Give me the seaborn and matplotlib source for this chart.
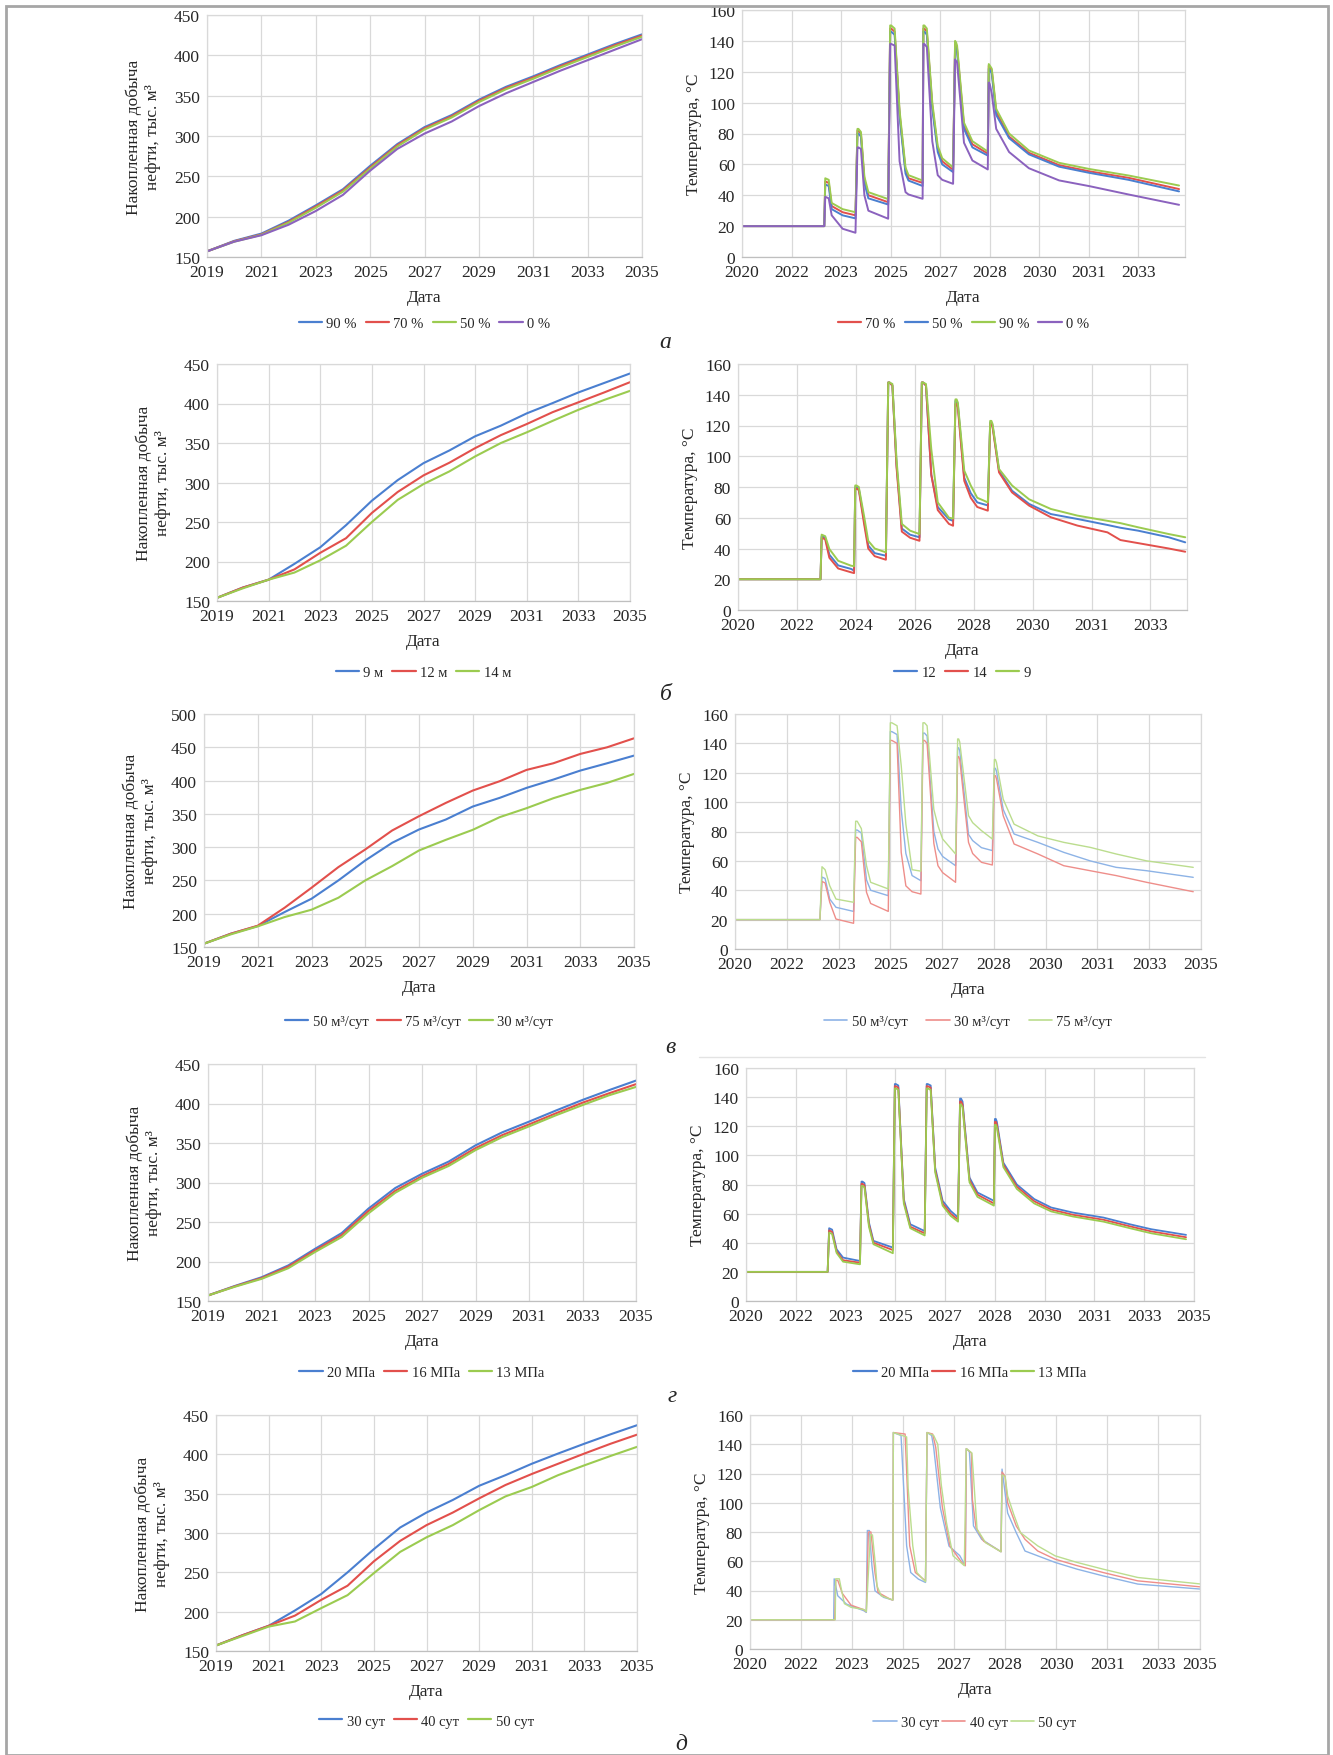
import numpy as np
import pandas as pd
import matplotlib.pyplot as plt
import seaborn as sns
from matplotlib.lines import Line2D
from matplotlib.patches import Rectangle

sns.set_theme(style="whitegrid")
plt.rcParams['font.family'] = ['Liberation Serif', 'DejaVu Serif']

# ---------------- data: cumulative oil production (left column) ----------------
years = list(range(2019, 2036))

prod_a = {
    "90 %": [157, 170, 179, 195, 214, 234, 263, 290, 311, 326, 345, 361, 374, 388, 401, 414, 426],
    "70 %": [157, 169.5, 178, 193.5, 212.5, 232.5, 261, 288.5, 309.5, 324.5, 343.5, 359.5, 372.5, 386.5, 399.5, 412.5, 424.5],
    "50 %": [157, 169, 177.5, 192.5, 211, 231, 259.5, 287, 308, 323, 342, 358, 371, 385, 398, 411, 423],
    "0 %": [157, 169, 177, 190, 207, 227, 257, 284, 303, 318, 337, 353, 367, 381, 394, 407, 420],
}
prod_b = {
    "9 м": [154, 167, 177, 197, 218, 246, 277, 303, 324.5, 340.5, 358.5, 372, 387.5, 400.5, 414, 426, 438],
    "12 м": [154, 167, 177, 190, 211, 229.5, 261.5, 288, 309, 325, 343.5, 360, 374, 389, 401.5, 414, 427],
    "14 м": [154, 166, 177, 186, 201.5, 220, 250, 278, 298, 314, 333, 350, 363.5, 378, 392, 404.5, 416],
}
prod_c = {
    "50 м³/сут": [155, 170, 181.5, 202.5, 222.5, 250, 280, 306.5, 326.5, 341.5, 361, 374, 389, 401.5, 415, 426, 437.5],
    "75 м³/сут": [155, 170, 182, 209, 239, 270, 296.5, 325, 346.5, 366.5, 385, 399, 416, 426, 440, 450, 463.5],
    "30 м³/сут": [155, 169, 181, 195, 206, 224, 250, 271.5, 295, 311, 326, 345, 358.5, 373.5, 386, 396.5, 410],
}
prod_d = {
    "20 МПа": [157, 169, 180, 195, 216, 236, 267, 293, 311, 326.5, 347, 363.5, 377, 391, 404.5, 417, 429],
    "16 МПа": [157, 168.5, 179, 193.5, 214, 233.5, 264, 289.5, 308, 323.5, 343.5, 360, 373.5, 387.5, 401, 413, 424.5],
    "13 МПа": [157, 168, 178, 191.5, 212, 231, 261, 287, 306, 321, 341, 357.5, 371, 385, 398, 410.5, 421],
}
prod_e = {
    "30 сут": [157, 170, 182, 201.5, 222.5, 250, 279.5, 307, 326, 342, 360, 373.5, 388, 401, 413.5, 425.5, 437],
    "40 сут": [157, 170, 182, 195, 215, 233, 264, 290, 310, 326, 344, 361, 375, 388, 401, 413.5, 425],
    "50 сут": [157, 169, 181, 187.5, 204.5, 221, 249, 276, 294.5, 310, 329, 346.5, 358.5, 373.5, 386, 398, 409.5],
}

# ---------------- data: temperature (right column) ----------------
# time is given in units of the date-axis label interval (Excel category axis)
t_a = [0, 1.66, 1.68, 1.75, 1.81, 2.03, 2.29,
       2.33, 2.35, 2.40, 2.47, 2.55, 2.95,
       2.99, 3.01, 3.08, 3.18, 3.30, 3.36, 3.645,
       3.66, 3.68, 3.73, 3.84, 3.95, 4.04, 4.26,
       4.30, 4.32, 4.34, 4.48, 4.65, 4.96,
       4.98, 5.00, 5.04, 5.13, 5.39, 5.79, 6.40, 7.01, 7.80, 8.82]
temp_a = {
    "70 %": [20, 20, 49, 48, 33, 29, 27,
             82, 82, 80, 50, 40, 35.5,
             148, 148, 146, 93, 56, 51, 48,
             148, 148, 146, 98, 70, 62, 56.5,
             138, 137, 135, 85, 73, 67,
             124, 123, 121, 94, 78, 67.5, 59.5, 55.5, 51.3, 44],
    "50 %": [20, 20, 47, 46, 31, 27, 25,
             80, 80, 78, 48, 38, 34,
             146, 146, 144, 91, 54, 49.5, 46,
             146, 146, 144, 96, 68, 60, 55,
             136, 135, 133, 83, 71, 65.7,
             122, 121, 119, 92, 77, 66.5, 58.5, 54.5, 50, 42.5],
    "90 %": [20, 20, 51, 50, 35, 31, 29,
             83, 83, 81, 52, 42, 37.5,
             150, 150, 148, 95, 58, 53, 49.5,
             150, 150, 148, 100, 72, 64, 58,
             140, 139, 137, 87, 75, 68.3,
             125, 124, 122, 96, 80, 69, 61, 57, 52.8, 46.3],
    "0 %": [20, 20, 39, 38, 27, 18.3, 15.7,
            71, 71, 70, 40, 30, 24.8,
            138, 138, 137, 62, 42, 40.5, 37.7,
            138, 138, 136, 75, 53, 50, 47.4,
            128, 127, 126, 74, 62.5, 56.7,
            113, 112, 106, 83, 68, 57.5, 49.6, 45.9, 40.5, 33.8],
}

t_b = [0, 1.40, 1.42, 1.48, 1.55, 1.70, 1.92, 1.97,
       1.99, 2.01, 2.05, 2.14, 2.21, 2.32, 2.51,
       2.55, 2.57, 2.62, 2.69, 2.78, 2.92, 3.08,
       3.12, 3.14, 3.19, 3.28, 3.39, 3.58, 3.65,
       3.69, 3.71, 3.73, 3.84, 3.95, 4.06, 4.24,
       4.28, 4.30, 4.32, 4.43, 4.65, 4.94, 5.31, 5.76, 6.27, 6.49, 6.79, 7.31, 7.59]
temp_b = {
    "12": [20, 20, 48, 47, 36, 29, 26.7, 25.6,
           80, 80, 79, 58, 42, 37, 35.3,
           148, 148, 146, 95, 53, 49, 47.3,
           148, 148, 146, 88, 67, 59, 58,
           136, 136, 134, 86, 76, 70, 68,
           122, 122, 120, 90.6, 77.6, 69, 62.4, 59.2, 55.3, 53.5, 51.6, 47.3, 44],
    "14": [20, 20, 47, 46, 34, 27, 24.5, 24,
           79, 79, 78, 56, 40, 35, 32.7,
           148, 148, 146, 93, 51, 47, 45,
           148, 148, 146, 88, 65, 56, 54.8,
           134, 134, 132, 84, 73, 67, 64.6,
           121, 121, 119, 89.5, 76.5, 67.9, 60.3, 54.9, 50.5, 45.5, 43.5, 40, 37.9],
    "9": [20, 20, 49, 48, 39.7, 32, 28.8, 28.5,
          81, 81, 80, 61, 45, 40, 37.5,
          148, 148, 147, 98, 56, 51.6, 49.4,
          148, 148, 147, 104.7, 70, 60, 59.5,
          137, 137, 135, 90.6, 81, 73, 70,
          123, 123, 121, 91.7, 81, 72, 65.7, 61.4, 58, 56.5, 53.8, 49.4, 47.3],
}

t_c = [0, 1.64, 1.68, 1.74, 1.83, 1.95, 2.29,
       2.33, 2.36, 2.44, 2.54, 2.62, 2.96,
       3.00, 3.03, 3.13, 3.21, 3.30, 3.42, 3.59,
       3.63, 3.66, 3.71, 3.84, 3.92, 4.01, 4.26,
       4.30, 4.32, 4.34, 4.51, 4.59, 4.76, 4.97,
       5.01, 5.03, 5.05, 5.18, 5.39, 5.85, 6.35, 6.86, 7.36, 7.95, 8.85]
temp_c = {
    "50 м³/сут": [20, 20, 49, 48, 34, 28.4, 25.6,
                  81, 81, 79, 47, 40, 36.3,
                  148, 148, 146, 95, 65, 50, 46.5,
                  147, 147, 145, 80, 68, 63, 56.7,
                  137, 137, 135, 78, 73.8, 69, 67,
                  123, 123, 121, 95, 78.3, 72.6, 65.8, 60, 55.6, 53.3, 48.8],
    "30 м³/сут": [20, 20, 46, 45, 31.8, 20.4, 17.5,
                  76, 76, 73, 38.6, 31, 25.6,
                  142, 142, 140, 65.8, 43, 39, 37.4,
                  142, 142, 140, 72, 56.7, 52, 45.4,
                  131, 131, 129, 72.6, 65, 59, 57.2,
                  118, 118, 116, 90.8, 71.5, 64.7, 56.7, 53.3, 50, 45.4, 39],
    "75 м³/сут": [20, 20, 56, 54, 43, 34, 31.8,
                  87, 87, 82, 56.7, 45.4, 40.9,
                  154, 154, 152, 125, 85, 54, 53,
                  154, 154, 152, 95, 84, 74.9, 64.7,
                  143, 143, 141, 90.8, 86, 80.6, 74.9,
                  129, 129, 127, 102, 85, 77, 72.6, 69.2, 64.7, 60, 55.6],
}

t_d = [0, 1.64, 1.67, 1.73, 1.82, 1.95, 2.29,
       2.32, 2.34, 2.38, 2.47, 2.56, 2.95,
       2.99, 3.01, 3.06, 3.17, 3.30, 3.59,
       3.63, 3.65, 3.71, 3.80, 3.95, 4.11, 4.26,
       4.30, 4.32, 4.35, 4.49, 4.65, 4.98,
       5.00, 5.02, 5.04, 5.17, 5.44, 5.79, 6.13, 6.57, 7.18, 7.71, 8.14, 8.84]
temp_d = {
    "20 МПа": [20, 20, 50, 49, 35.5, 29.8, 27.5,
               82, 82, 81, 53.9, 41.3, 36.7,
               149, 149, 148, 70, 52.7, 48,
               149, 149, 148, 91.7, 68.8, 61.9, 57.3,
               139, 139, 137, 84.8, 74.5, 68.8,
               125, 125, 123, 95, 80, 70, 64.2, 60.7, 57.3, 52.7, 49.3, 45.4],
    "16 МПа": [20, 20, 48.5, 47.5, 34, 28, 26.3,
               80.5, 80.5, 79.5, 52.5, 40, 35,
               147.5, 147.5, 146.5, 68.5, 51, 46.5,
               147.5, 147.5, 146.5, 90, 67, 60, 55.8,
               137, 137, 135, 83, 73, 67,
               123, 123, 121, 93.5, 78.5, 68.5, 62.8, 59.2, 55.8, 51.3, 47.8, 43.8],
    "13 МПа": [20, 20, 47, 46, 33, 27, 25.2,
               79, 79, 78, 51, 39, 32.8,
               146, 146, 145, 67, 50, 45,
               146, 146, 145, 88.5, 65.5, 58.5, 54.5,
               135, 135, 133, 81.5, 71.5, 65.5,
               121, 121, 119, 92, 77, 67, 61.5, 58, 54.5, 50, 46.5, 42.4],
}

# д: each series has its own time grid (shifted injection periods)
t_e30 = [0, 1.64, 1.65, 1.72, 1.89, 2.23, 2.28,
         2.30, 2.34, 2.39, 2.45, 2.62, 2.80,
         2.81, 2.96, 3.07, 3.15, 3.30, 3.44,
         3.47, 3.56, 3.60, 3.73, 3.90, 4.11, 4.22,
         4.24, 4.30, 4.38, 4.54, 4.79, 4.92,
         4.94, 5.05, 5.22, 5.39, 5.64, 5.98, 6.41, 6.92, 7.60, 8.82]
temp_e30 = [20, 20, 48, 36.4, 30.7, 26.2, 25,
            81, 81, 56.9, 39.8, 35.3, 33.5,
            148, 146, 70.6, 52.3, 47.8, 45.5,
            148, 146, 138, 96.7, 70.4, 63.9, 57,
            137, 135, 84.2, 75, 69.4, 66.5,
            123, 93, 79.4, 67, 63.7, 59.2, 54.6, 50, 44.4, 41]
t_e40 = [0, 1.66, 1.68, 1.72, 1.81, 1.98, 2.23, 2.28,
         2.32, 2.37, 2.45, 2.51, 2.75, 2.80,
         2.81, 3.04, 3.13, 3.24, 3.44,
         3.47, 3.58, 3.64, 3.77, 3.92, 4.15, 4.22,
         4.24, 4.34, 4.36, 4.43, 4.58, 4.92,
         4.94, 5.00, 5.05, 5.22, 5.39, 5.64, 5.98, 6.41, 6.92, 7.60, 8.82]
temp_e40 = [20, 20, 47, 47, 38, 30, 26.9, 25.5,
            80, 80, 52, 38.7, 34, 33.5,
            148, 147, 70.6, 52.3, 46.6,
            148, 147, 138, 97, 70.4, 59.2, 57,
            137, 134, 102, 83, 73.7, 66.5,
            121, 118, 100, 84, 75, 67, 61.4, 57, 52.3, 46.6, 42.5]
t_e50 = [0, 1.67, 1.68, 1.75, 1.79, 1.85, 1.98, 2.23, 2.28,
         2.36, 2.40, 2.46, 2.49, 2.57, 2.75, 2.80,
         2.81, 3.07, 3.10, 3.19, 3.27, 3.44,
         3.47, 3.60, 3.68, 3.75, 3.85, 3.98, 4.20,
         4.24, 4.35, 4.45, 4.62, 4.92,
         4.94, 5.00, 5.05, 5.17, 5.30, 5.64, 5.98, 6.41, 6.92, 7.60, 8.82]
temp_e50 = [20, 20, 48, 48, 41, 31, 28.5, 27, 25.5,
            78, 78, 56.9, 43.2, 36.4, 34.1, 33.5,
            148, 145, 110, 70.6, 52.3, 46,
            148, 146, 140, 112, 86.6, 63.7, 57,
            137, 134, 82, 72.6, 66.5,
            119, 118, 104.7, 92, 79.6, 70.5, 63.7, 59.2, 54.6, 48.9, 44.5]

labels_a = ["2020", "2022", "2023", "2025", "2027", "2028", "2030", "2031", "2033"]
labels_b = ["2020", "2022", "2024", "2026", "2028", "2030", "2031", "2033"]
labels_c = ["2020", "2022", "2023", "2025", "2027", "2028", "2030", "2031", "2033", "2035"]

# ---------------- styling ----------------
BLUE, RED, GREEN, PURPLE = "#4A7FD0", "#E2504C", "#9BCB50", "#8B62BE"
LBLUE, LRED, LGREEN = "#8DB3E6", "#EE8E8A", "#BBDD8E"
GRID = "#D9D9D9"
TXT = "#262626"

W, H = 1333, 1756
fig = plt.figure(figsize=(W / 100, H / 100), dpi=100)
fig.patch.set_facecolor("white")


def make_ax(x0, x1, y0, y1):
    ax = fig.add_axes([x0 / W, 1 - y1 / H, (x1 - x0) / W, (y1 - y0) / H])
    ax.set_facecolor("white")
    ax.grid(True, color=GRID, lw=0.9)
    for side, sp in ax.spines.items():
        sp.set_visible(True)
        sp.set_color(GRID)
        sp.set_linewidth(0.9)
    ax.spines["bottom"].set_color("#BFBFBF")
    ax.tick_params(length=0, labelsize=12.5, colors=TXT, pad=5)
    return ax


def ftext(x, y, s, **kw):
    fig.text(x / W, 1 - y / H, s, color=TXT, **kw)


def legend(labels, colors, cx, cy, lw=1.6, sp=0.6):
    hs = [Line2D([], [], color=c, lw=lw) for c in colors]
    fig.legend(hs, labels, loc="center", bbox_to_anchor=(cx / W, 1 - cy / H),
               ncol=len(labels), frameon=False, fontsize=10.5, handlelength=1.6,
               handletextpad=0.3, columnspacing=sp, labelcolor=TXT)


def left_panel(box, data, colors, ylim, yticks, leg_y):
    x0, x1, y0, y1 = box
    ax = make_ax(*box)
    for (name, vals), c in zip(data.items(), colors):
        sns.lineplot(x=years, y=vals, ax=ax, color=c, lw=1.5, legend=False,
                     estimator=None, sort=False)
    ax.set_xlim(2019, 2035)
    ax.set_xticks(range(2019, 2036, 2))
    ax.set_ylim(*ylim)
    ax.set_yticks(yticks)
    ax.set_xlabel("")
    ax.set_ylabel("")
    ftext((x0 + x1) / 2, y1 + 40, "Дата", ha="center", va="center", fontsize=12.5)
    ftext(x0 - 64, (y0 + y1) / 2, "Накопленная добыча\nнефти, тыс. м³", rotation=90,
          ha="center", va="center", fontsize=12.5, linespacing=1.25)
    legend(list(data.keys()), colors, (x0 + x1) / 2, leg_y)
    return ax


def right_panel(box, t, data, colors, ticks, tlabels, xmax, lw, leg_y, sp=0.6):
    x0, x1, y0, y1 = box
    ax = make_ax(*box)
    for (name, vals), c in zip(data.items(), colors):
        tt = t[name] if isinstance(t, dict) else t
        sns.lineplot(x=tt, y=vals, ax=ax, color=c, lw=lw, legend=False,
                     estimator=None, sort=False)
    ax.set_xlim(0, xmax)
    ax.set_xticks(ticks)
    ax.set_xticklabels(tlabels)
    ax.set_ylim(0, 160)
    ax.set_yticks(range(0, 161, 20))
    ax.set_xlabel("")
    ax.set_ylabel("")
    ftext((x0 + x1) / 2, y1 + 40, "Дата", ha="center", va="center", fontsize=12.5)
    ftext(x0 - 48, (y0 + y1) / 2, "Температура, °С", rotation=90,
          ha="center", va="center", fontsize=12.5)
    legend(list(data.keys()), colors, (x0 + x1) / 2, leg_y,
           lw=1.6 if lw > 1.2 else 1.2, sp=sp)
    return ax


# row а
left_panel((207, 642, 16, 258), prod_a, [BLUE, RED, GREEN, PURPLE], (150, 450),
           range(150, 451, 50), 324)
right_panel((742, 1185, 11, 258), t_a, temp_a, [RED, BLUE, GREEN, PURPLE],
            range(0, 9), labels_a, 8.94, 1.4, 324)
ftext(665, 343, "а", fontsize=17, style="italic", ha="center", va="center")

# row б
left_panel((217, 630, 365, 602), prod_b, [BLUE, RED, GREEN], (150, 450),
           range(150, 451, 50), 673)
right_panel((738, 1187, 365, 611), t_b, temp_b, [BLUE, RED, GREEN],
            range(0, 8), labels_b, 7.62, 1.4, 673)
ftext(666, 694, "б", fontsize=17, style="italic", ha="center", va="center")

# row в
left_panel((204, 634, 715, 948), prod_c, [BLUE, RED, GREEN], (150, 500),
           range(150, 501, 50), 1022)
right_panel((735, 1201, 715, 950), t_c, temp_c, [LBLUE, LRED, LGREEN],
            range(0, 10), labels_c, 9, 1.0, 1022, sp=1.3)
ftext(670, 1048, "в", fontsize=17, style="italic", ha="center", va="center")
fig.add_artist(Line2D([699 / W, 1205 / W], [1 - 1058 / H, 1 - 1058 / H], color="#E3E3E3", lw=1))

# row г
left_panel((208, 636, 1065, 1302), prod_d, [BLUE, RED, GREEN], (150, 450),
           range(150, 451, 50), 1373)
right_panel((746, 1194, 1069, 1302), t_d, temp_d, [BLUE, RED, GREEN],
            range(0, 10), labels_c, 9, 1.3, 1373, sp=0.2)
ftext(672, 1397, "г", fontsize=17, style="italic", ha="center", va="center")

# row д
left_panel((216, 637, 1416, 1652), prod_e, [BLUE, RED, GREEN], (150, 450),
           range(150, 451, 50), 1722)
t_e = {"30 сут": t_e30, "40 сут": t_e40, "50 сут": t_e50}
temp_e = {"30 сут": temp_e30, "40 сут": temp_e40, "50 сут": temp_e50}
right_panel((750, 1200, 1416, 1650), t_e, temp_e, [LBLUE, LRED, LGREEN],
            list(range(0, 9)) + [8.82], labels_c, 8.82, 1.0, 1723, sp=0.2)
ftext(681, 1745, "д", fontsize=17, style="italic", ha="center", va="center")

# outer frame
fig.add_artist(Rectangle((6 / W, 0), 1322 / W, 1 - 7 / H, transform=fig.transFigure,
                         fill=False, edgecolor="#A6A6A6", lw=2))

fig.savefig("out.png", dpi=100, facecolor="white")
